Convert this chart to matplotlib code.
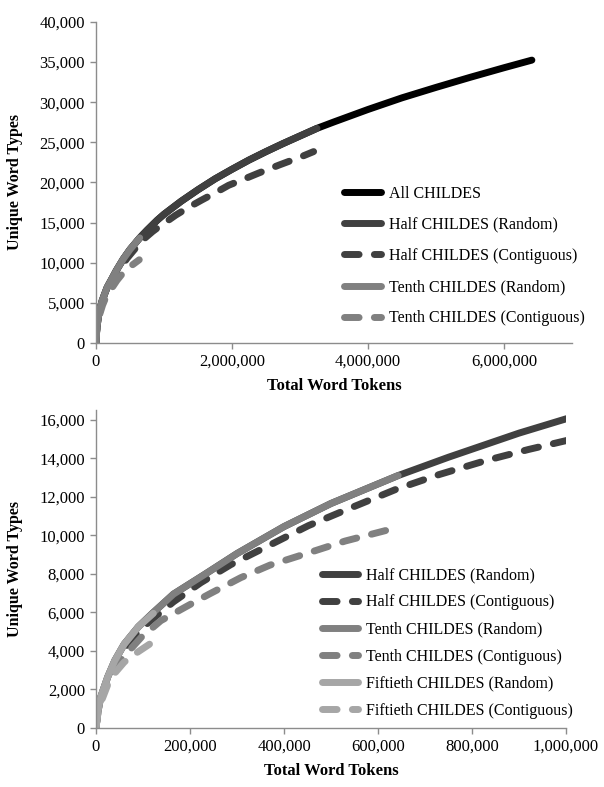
import numpy as np
import matplotlib.pyplot as plt
from matplotlib.ticker import FuncFormatter

plt.rcParams['font.family'] = ['Liberation Serif', 'DejaVu Serif']

# values (tokens, unique types)
all_x = [0, 3e3, 1e4, 2.5e4, 4e4, 6e4, 9e4, 1.2e5, 1.65e5, 2.3e5, 3e5, 4e5, 5e5, 6.43e5,
		 7.5e5, 9e5, 1e6, 1.25e6, 1.5e6, 1.75e6, 2e6, 2.25e6, 2.5e6, 2.75e6, 3e6, 3.25e6,
		 3.5e6, 4e6, 4.5e6, 5e6, 5.5e6, 6e6, 6.41e6]
all_y = [0, 700, 1600, 2650, 3500, 4350, 5250, 5950, 6950, 7950, 9050, 10450, 11650, 13100,
		 14050, 15300, 16040, 17650, 19100, 20450, 21650, 22800, 23850, 24850, 25800, 26750,
		 27550, 29100, 30550, 31850, 33100, 34300, 35250]

half_r_x = [0, 3e3, 1e4, 2.5e4, 4e4, 6e4, 9e4, 1.2e5, 1.65e5, 2.3e5, 3e5, 4e5, 5e5, 6.43e5,
			7.5e5, 9e5, 1e6, 1.25e6, 1.5e6, 1.75e6, 2e6, 2.25e6, 2.5e6, 2.75e6, 3e6, 3.25e6]
half_r_y = [0, 700, 1600, 2650, 3500, 4350, 5250, 5950, 6950, 7950, 9050, 10450, 11650, 13100,
			14050, 15300, 16040, 17650, 19100, 20450, 21650, 22800, 23850, 24850, 25800, 26750]

half_c_x = [0, 3e3, 1e4, 2.5e4, 4e4, 6e4, 9e4, 1.2e5, 1.65e5, 2.23e5, 2.87e5, 3.5e5, 4.52e5,
			5.4e5, 6.4e5, 7.3e5, 8.3e5, 9.2e5, 1e6, 1.17e6, 1.36e6, 1.56e6, 1.75e6, 1.95e6,
			2.17e6, 2.39e6, 2.7e6, 3e6, 3.2e6]
half_c_y = [0, 700, 1550, 2550, 3300, 4100, 5000, 5650, 6550, 7540, 8480, 9250, 10500,
			11400, 12400, 13150, 13880, 14450, 14910, 15920, 16900, 17840, 18700, 19650,
			20400, 21170, 22200, 23150, 23850]

tenth_r_x = [0, 3e3, 1e4, 2.5e4, 4e4, 6e4, 9e4, 1.2e5, 1.65e5, 2.3e5, 3e5, 4e5, 5e5, 6.43e5]
tenth_r_y = [0, 700, 1600, 2650, 3500, 4350, 5250, 5950, 6950, 7950, 9050, 10450, 11650, 13100]

tenth_c_x = [0, 3e3, 1e4, 2.5e4, 5e4, 9.6e4, 1.38e5, 1.95e5, 2.41e5, 3.08e5, 3.7e5, 4.41e5,
			 5.3e5, 6.36e5]
tenth_c_y = [0, 650, 1450, 2400, 3450, 4700, 5570, 6340, 6950, 7800, 8450, 9000,
			 9700, 10370]

fiftieth_r_x = [0, 3e3, 1e4, 2.5e4, 4e4, 6e4, 9e4, 1.22e5]
fiftieth_r_y = [0, 700, 1600, 2650, 3500, 4350, 5250, 5950]

fiftieth_c_x = [0, 3e3, 1e4, 2.5e4, 4e4, 6e4, 8.5e4, 1.17e5]
fiftieth_c_y = [0, 600, 1300, 2250, 2850, 3420, 3880, 4400]

BLACK = '#000000'
DARK = '#404040'
MID = '#808080'
LIGHT = '#a6a6a6'
AXIS = '#8c8c8c'
LW = 5
DASH = (2.1, 2.2)

fmt = FuncFormatter(lambda v, p: f'{v:,.0f}')


def style(ax):
	for s in ['top', 'right']:
		ax.spines[s].set_visible(False)
	for s in ['left', 'bottom']:
		ax.spines[s].set_color(AXIS)
		ax.spines[s].set_linewidth(1.0)
	ax.tick_params(direction='out', length=4, width=1, color=AXIS,
				   labelsize=12, pad=4)
	ax.xaxis.set_major_formatter(fmt)
	ax.yaxis.set_major_formatter(fmt)
	ax.set_xlabel('Total Word Tokens', fontsize=12, fontweight='bold', labelpad=5.5)
	ax.set_ylabel('Unique Word Types', fontsize=11.5, fontweight='bold', labelpad=12)


def line(ax, x, y, color, label, dashed=False):
	kw = dict(color=color, lw=LW, label=label, solid_capstyle='round',
			  dash_capstyle='round', solid_joinstyle='round', dash_joinstyle='round')
	if dashed:
		kw['dashes'] = DASH
	ax.plot(x, y, **kw)


def legend(ax, anchor, spacing):
	ax.legend(loc='upper left', bbox_to_anchor=anchor, frameon=False,
			  borderpad=0, borderaxespad=0, handlelength=2.3, handletextpad=0.5,
			  labelspacing=spacing, fontsize=11.5)


fig = plt.figure(figsize=(6.04, 7.87), dpi=100)

# top panel
ax1 = fig.add_axes([96 / 604, 1 - 343 / 787, 476 / 604, 321 / 787])
line(ax1, all_x, all_y, BLACK, 'All CHILDES')
line(ax1, half_r_x, half_r_y, DARK, 'Half CHILDES (Random)')
line(ax1, half_c_x, half_c_y, DARK, 'Half CHILDES (Contiguous)', dashed=True)
line(ax1, tenth_r_x, tenth_r_y, MID, 'Tenth CHILDES (Random)')
line(ax1, tenth_c_x, tenth_c_y, MID, 'Tenth CHILDES (Contiguous)', dashed=True)
ax1.set_xlim(0, 7e6)
ax1.set_ylim(0, 40000)
ax1.set_xticks([0, 2e6, 4e6, 6e6])
ax1.set_yticks(np.arange(0, 40001, 5000))
style(ax1)
legend(ax1, (0.521, 0.49), 0.95)

# bottom panel
ax2 = fig.add_axes([96 / 604, 1 - 728 / 787, 470 / 604, 318 / 787])
line(ax2, half_r_x, half_r_y, DARK, 'Half CHILDES (Random)')
line(ax2, half_c_x, half_c_y, DARK, 'Half CHILDES (Contiguous)', dashed=True)
line(ax2, tenth_r_x, tenth_r_y, MID, 'Tenth CHILDES (Random)')
line(ax2, tenth_c_x, tenth_c_y, MID, 'Tenth CHILDES (Contiguous)', dashed=True)
line(ax2, fiftieth_r_x, fiftieth_r_y, LIGHT, 'Fiftieth CHILDES (Random)')
line(ax2, fiftieth_c_x, fiftieth_c_y, LIGHT, 'Fiftieth CHILDES (Contiguous)', dashed=True)
ax2.set_xlim(0, 1e6)
ax2.set_ylim(0, 16500)
ax2.set_xticks(np.arange(0, 1e6 + 1, 2e5))
ax2.set_yticks(np.arange(0, 16001, 2000))
style(ax2)
legend(ax2, (0.4802, 0.506), 0.7)

fig.savefig('out.png', dpi=100)
